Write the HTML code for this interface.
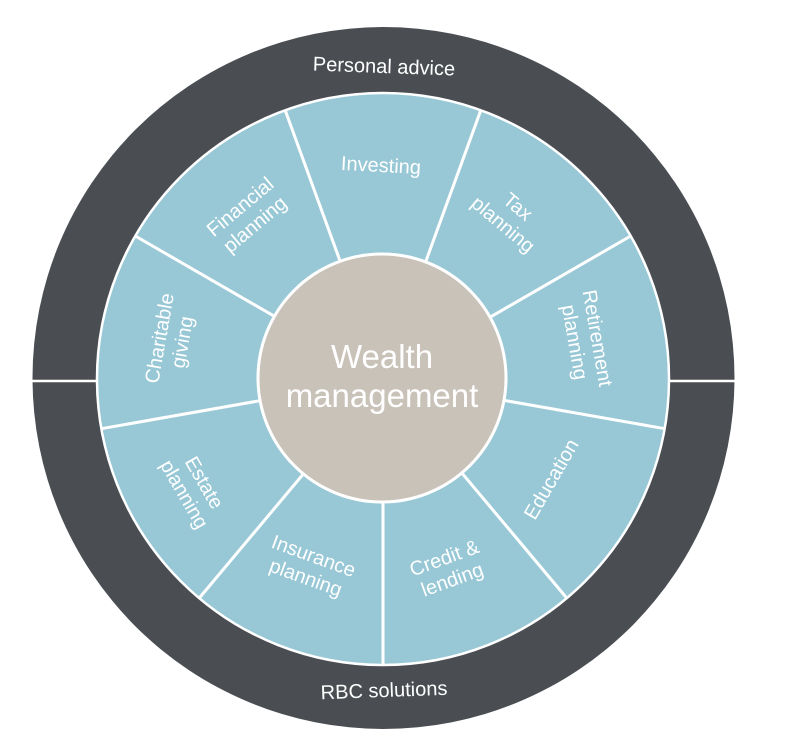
<!DOCTYPE html>
<html><head><meta charset="utf-8"><style>
html,body{margin:0;padding:0;background:#fff;width:808px;height:752px;overflow:hidden}
svg text{font-family:"Liberation Sans",sans-serif;fill:#fff}
</style></head><body>
<svg width="808" height="752" viewBox="0 0 808 752">
<circle cx="383.5" cy="378" r="351" fill="#4a4e53"/>
<line x1="30" y1="381" x2="737" y2="381" stroke="#fff" stroke-width="2.5"/>
<circle cx="383" cy="379" r="286" fill="#98c8d6" stroke="#fff" stroke-width="2.5"/>
<g stroke="#fff" stroke-width="3">
<line x1="383" y1="379" x2="480.8" y2="110.3"/>
<line x1="383" y1="379" x2="630.7" y2="236"/>
<line x1="383" y1="379" x2="664.7" y2="428.7"/>
<line x1="383" y1="379" x2="566.8" y2="598.1"/>
<line x1="383" y1="379" x2="383" y2="665"/>
<line x1="383" y1="379" x2="199.2" y2="598.1"/>
<line x1="383" y1="379" x2="101.3" y2="428.7"/>
<line x1="383" y1="379" x2="135.3" y2="236"/>
<line x1="383" y1="379" x2="285.2" y2="110.3"/>
</g>
<circle cx="382" cy="378" r="124" fill="#c9c2b9" stroke="#fff" stroke-width="3"/>
<text x="382" y="368" font-size="33" text-anchor="middle">Wealth</text>
<text x="382" y="407" font-size="33" text-anchor="middle">management</text>
<text x="384" y="73" font-size="20" text-anchor="middle" transform="rotate(2 384 66)">Personal advice</text>
<text x="384" y="697" font-size="20" text-anchor="middle" transform="rotate(-2 384 690)">RBC solutions</text>
<g font-size="20" text-anchor="middle">
<g transform="translate(247,215) rotate(-40)"><text y="-4">Financial</text><text y="19">planning</text></g>
<g transform="translate(381,165) rotate(3)"><text y="7">Investing</text></g>
<g transform="translate(511,215) rotate(40)"><text y="-4">Tax</text><text y="19">planning</text></g>
<g transform="translate(587,340) rotate(80)"><text y="-4">Retirement</text><text y="19">planning</text></g>
<g transform="translate(551,479) rotate(-60)"><text y="7">Education</text></g>
<g transform="translate(448,568) rotate(-20)"><text y="-4">Credit &amp;</text><text y="19">lending</text></g>
<g transform="translate(310,566) rotate(20)"><text y="-4">Insurance</text><text y="19">planning</text></g>
<g transform="translate(195,488) rotate(60)"><text y="-4">Estate</text><text y="19">planning</text></g>
<g transform="translate(170,340) rotate(-80)"><text y="-4">Charitable</text><text y="19">giving</text></g>
</g>
</svg>
</body></html>
